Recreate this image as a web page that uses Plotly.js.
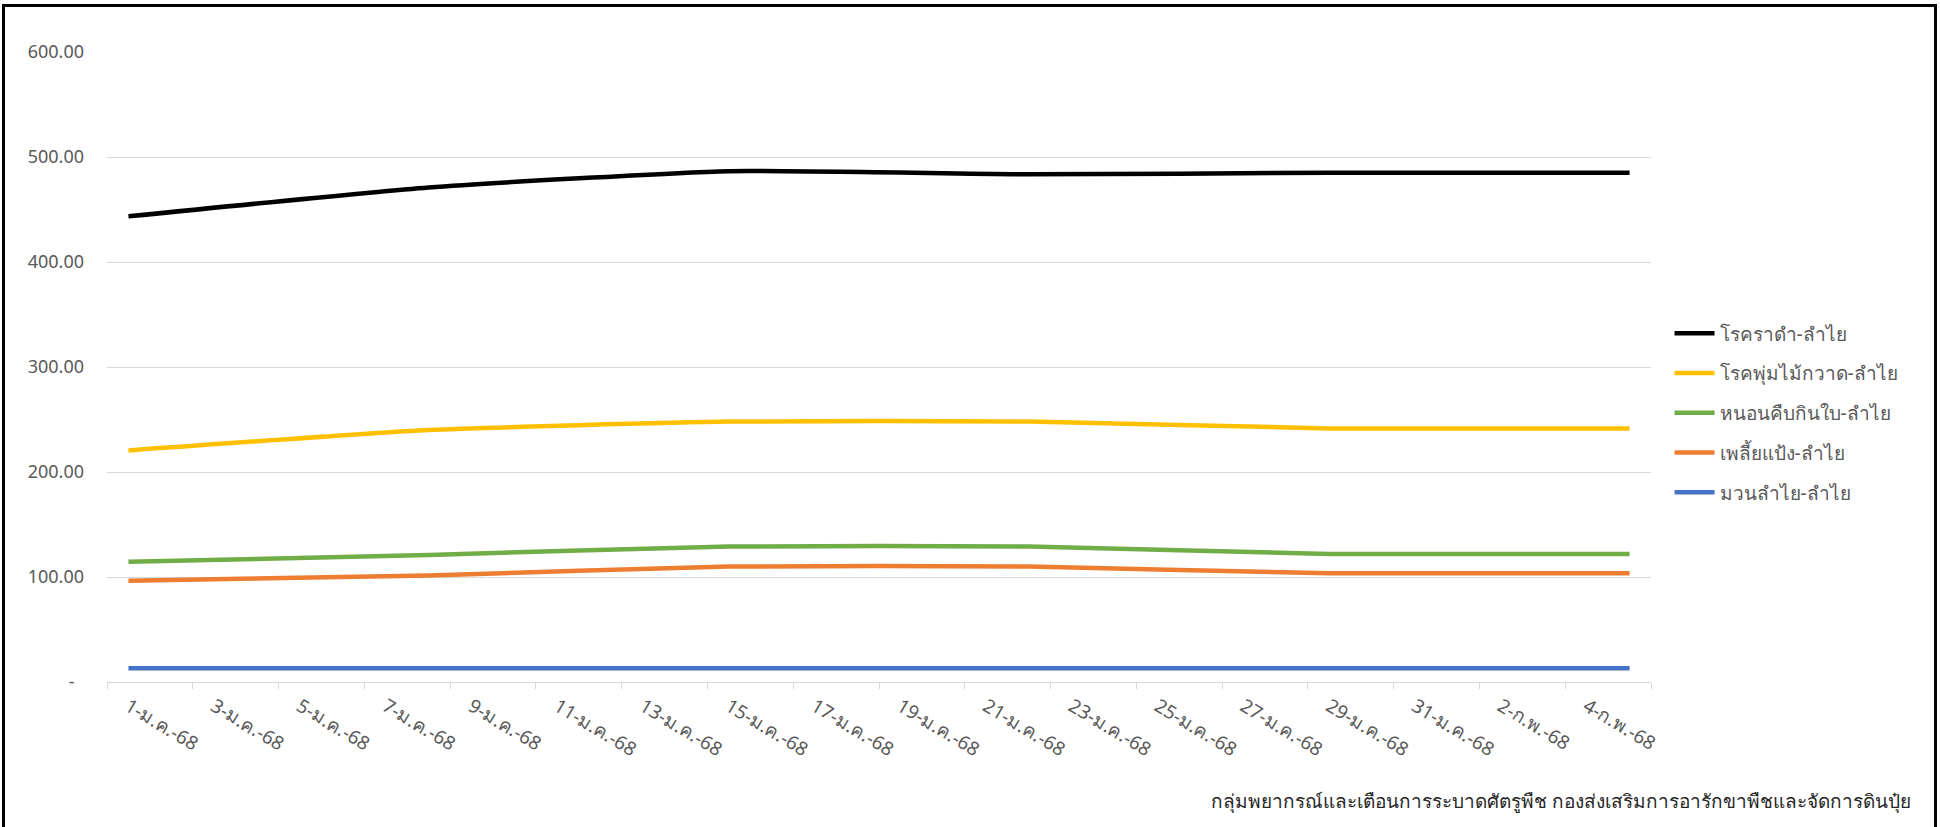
<!DOCTYPE html>
<html>
<head>
<meta charset="utf-8">
<script src="https://cdn.plot.ly/plotly-3.0.1.min.js"></script>
<style>
  html, body { margin: 0; padding: 0; background: #ffffff; }
  #wrap { position: relative; width: 1940px; height: 827px; overflow: hidden; }
  #chart { width: 1940px; height: 827px; }
  #frame { position: absolute; left: 2px; top: 4px; width: 1929px; height: 840px;
           border: 3px solid #000; pointer-events: none; }
</style>
</head>
<body>
<div id="wrap">
  <div id="chart"></div>
  <div id="frame"></div>
</div>
<script>
// ---- data ----
const dates = ['2025-01-01', '2025-01-08', '2025-01-15', '2025-01-22', '2025-01-29', '2025-02-05'];

const seriesNames = ['โรคราดำ-ลำไย', 'โรคพุ่มไม้กวาด-ลำไย', 'หนอนคืบกินใบ-ลำไย', 'เพลี้ยแป้ง-ลำไย', 'มวนลำไย-ลำไย'];

const rakDam      = [443.5, 471, 486.5, 483.5, 485, 485];
const phumMaiKwat = [220.5, 240, 248, 248, 241.5, 241.5];
const nonKhueb    = [114.5, 121, 129, 129, 122, 122];
const phliaPaeng  = [96.5, 101.5, 110, 110, 103.5, 103.5];
const muanLamyai  = [13, 13, 13, 13, 13, 13];

const tickDates = ['2025-01-01','2025-01-03','2025-01-05','2025-01-07','2025-01-09','2025-01-11',
                   '2025-01-13','2025-01-15','2025-01-17','2025-01-19','2025-01-21','2025-01-23',
                   '2025-01-25','2025-01-27','2025-01-29','2025-01-31','2025-02-02','2025-02-04'];
const tickLabels = ['1-ม.ค.-68','3-ม.ค.-68','5-ม.ค.-68','7-ม.ค.-68','9-ม.ค.-68','11-ม.ค.-68',
                    '13-ม.ค.-68','15-ม.ค.-68','17-ม.ค.-68','19-ม.ค.-68','21-ม.ค.-68','23-ม.ค.-68',
                    '25-ม.ค.-68','27-ม.ค.-68','29-ม.ค.-68','31-ม.ค.-68','2-ก.พ.-68','4-ก.พ.-68'];

const yTickVals = [0, 100, 200, 300, 400, 500, 600];
const yTickText = ['-\u00a0\u00a0', '100.00', '200.00', '300.00', '400.00', '500.00', '600.00'];

const sourceText = 'กลุ่มพยากรณ์และเตือนการระบาดศัตรูพืช กองส่งเสริมการอารักขาพืชและจัดการดินปุ๋ย';

// ---- chart ----
const colors = ['#000000', '#FFC000', '#70AD47', '#ED7D31', '#4472C4'];
const values = [rakDam, phumMaiKwat, nonKhueb, phliaPaeng, muanLamyai];
const FONT = 'Tahoma, "Noto Sans", "DejaVu Sans", sans-serif';

const traces = values.map((v, i) => ({
  type: 'scatter',
  mode: 'lines',
  x: dates,
  y: v,
  name: seriesNames[i],
  legendgroup: 'g' + i,
  line: { color: colors[i], width: 4.5, shape: 'spline', smoothing: 0.5 },
  hoverinfo: 'x+y+name'
}));

const layout = {
  width: 1940,
  height: 827,
  paper_bgcolor: '#ffffff',
  plot_bgcolor: '#ffffff',
  margin: { l: 107, r: 289, t: 52, b: 145 },
  font: { family: FONT, color: '#595959', size: 18 },
  showlegend: true,
  legend: {
    x: 1.012, y: 0.427, xanchor: 'left', yanchor: 'middle',
    font: { family: FONT, size: 19, color: '#595959' },
    tracegroupgap: 12,
    itemwidth: 40,
    bgcolor: 'rgba(0,0,0,0)'
  },
  xaxis: {
    type: 'date',
    range: ['2024-12-31 12:00', '2025-02-05 12:00'],
    tickvals: tickDates,
    ticktext: tickLabels,
    tickangle: 31,
    ticks: '',
    ticklabelstandoff: 5,
    showgrid: false,
    showline: true,
    linecolor: '#d9d9d9',
    linewidth: 1,
    zeroline: false,
    tickfont: { family: FONT, size: 19, color: '#595959' },
    minor: {
      tick0: '2024-12-31 12:00',
      dtick: 172800000,
      ticks: 'outside',
      ticklen: 6,
      tickcolor: '#d9d9d9',
      tickwidth: 1,
      showgrid: false
    },
    fixedrange: true
  },
  yaxis: {
    range: [0, 600],
    tickvals: yTickVals,
    ticktext: yTickText,
    showgrid: true,
    gridcolor: '#d9d9d9',
    gridwidth: 1,
    zeroline: false,
    showline: false,
    ticks: '',
    ticklabelstandoff: 22,
    tickfont: { family: FONT, size: 18, color: '#595959' },
    fixedrange: true
  },
  annotations: [{
    xref: 'paper', yref: 'paper',
    x: 1.17, y: -0.165,
    xanchor: 'right', yanchor: 'top',
    text: sourceText,
    showarrow: false,
    font: { family: FONT, size: 19, color: '#262626' }
  }]
};

Plotly.newPlot('chart', traces, layout, { displayModeBar: false, staticPlot: true });
</script>
</body>
</html>
